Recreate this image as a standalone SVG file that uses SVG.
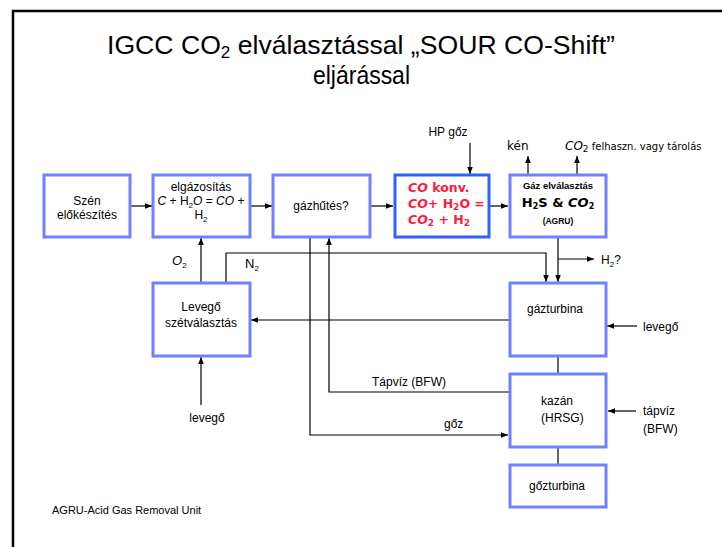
<svg xmlns="http://www.w3.org/2000/svg" width="722" height="547" viewBox="0 0 722 547">
<defs>
<style>
.t{font-family:"Liberation Sans",Arial,sans-serif;fill:#000}
.box{fill:#fff;stroke:#7080ff;stroke-width:3}
.boxr{fill:#fff;stroke:#3060ff;stroke-width:3}
.ln{fill:none;stroke:#000;stroke-width:1.2}
.red{font-family:"DejaVu Sans","Liberation Sans",sans-serif;font-weight:bold;fill:#ff1a40;font-size:12.5px}
.cs{font-family:"DejaVu Sans","Liberation Sans",sans-serif}
</style>
<marker id="a" viewBox="0 0 10 10" refX="10" refY="5" markerWidth="7" markerHeight="7" orient="auto" markerUnits="userSpaceOnUse">
<path d="M0,1 L10,5 L0,9 Z" fill="#000"/>
</marker>
</defs>
<rect x="0" y="0" width="722" height="547" fill="#fff"/>
<path d="M13,547 V11 H722" fill="none" stroke="#000" stroke-width="2.5"/>
<g id="title">
<text class="t" x="107" y="54" font-size="25" textLength="508" lengthAdjust="spacingAndGlyphs">IGCC CO<tspan font-size="16" dy="4">2</tspan><tspan dy="-4"> elválasztással „SOUR CO-Shift”</tspan></text>
<text class="t" x="313" y="84" font-size="25" textLength="97" lengthAdjust="spacingAndGlyphs">eljárással</text>
</g>
<g id="connectors">
<line class="ln" x1="130" y1="206" x2="152" y2="206" marker-end="url(#a)"/>
<line class="ln" x1="250" y1="206" x2="272" y2="206" marker-end="url(#a)"/>
<line class="ln" x1="371" y1="206" x2="393" y2="206" marker-end="url(#a)"/>
<line class="ln" x1="490" y1="206" x2="508" y2="206" marker-end="url(#a)"/>
<line class="ln" x1="470" y1="143" x2="470" y2="174" marker-end="url(#a)"/>
<line class="ln" x1="528" y1="174" x2="528" y2="156" marker-end="url(#a)"/>
<line class="ln" x1="577" y1="174" x2="577" y2="156" marker-end="url(#a)"/>
<line class="ln" x1="558" y1="237" x2="558" y2="282" marker-end="url(#a)"/>
<line class="ln" x1="558" y1="259" x2="594" y2="259" marker-end="url(#a)"/>
<polyline class="ln" points="226,283 226,253 546,253 546,282" marker-end="url(#a)"/>
<line class="ln" x1="201" y1="283" x2="201" y2="238" marker-end="url(#a)"/>
<line class="ln" x1="509" y1="320" x2="251" y2="320" marker-end="url(#a)"/>
<line class="ln" x1="201" y1="405" x2="201" y2="357" marker-end="url(#a)"/>
<line class="ln" x1="637" y1="326" x2="607" y2="326" marker-end="url(#a)"/>
<line class="ln" x1="558" y1="356" x2="558" y2="374"/>
<line class="ln" x1="558" y1="447" x2="558" y2="465"/>
<polyline class="ln" points="509,392 329,392 329,238" marker-end="url(#a)"/>
<polyline class="ln" points="310,237 310,435 508,435" marker-end="url(#a)"/>
<line class="ln" x1="636" y1="411" x2="608" y2="411" marker-end="url(#a)"/>
</g>
<g id="szen">
<rect class="box" x="44" y="175" width="86" height="62"/>
<text class="t" font-size="12" text-anchor="middle" x="87" y="205">Szén</text>
<text class="t" font-size="12" text-anchor="middle" x="87" y="219">előkészítés</text>
</g>
<g id="elgazositas">
<rect class="box" x="153" y="175" width="97" height="62"/>
<text class="t" font-size="12" text-anchor="middle" x="201" y="191">elgázosítás</text>
<text class="t" font-size="12" text-anchor="middle" x="201" y="205"><tspan font-style="italic">C</tspan> + H<tspan font-size="8" dy="3">2</tspan><tspan dy="-3" font-style="italic">O</tspan> = <tspan font-style="italic">CO</tspan> +</text>
<text class="t" font-size="12" text-anchor="middle" x="201" y="219">H<tspan font-size="8" dy="3">2</tspan></text>
</g>
<g id="gazhutes">
<rect class="box" x="273" y="175" width="97" height="62"/>
<text class="t" font-size="12" text-anchor="middle" x="321" y="210">gázhűtés?</text>
</g>
<g id="cokonv">
<rect class="boxr" x="395" y="175" width="94" height="62"/>
<text class="red" x="408" y="192"><tspan font-style="italic">CO</tspan> konv.</text>
<text class="red" x="408" y="208"><tspan font-style="italic">CO</tspan>+ H<tspan font-size="9" dy="2">2</tspan><tspan dy="-2">O =</tspan></text>
<text class="red" x="408" y="224"><tspan font-style="italic">CO</tspan><tspan font-size="9" dy="2">2</tspan><tspan dy="-2"> + H</tspan><tspan font-size="9" dy="2">2</tspan></text>
</g>
<g id="gazelvalasztas">
<rect class="box" x="510" y="175" width="96" height="62"/>
<text class="t" font-size="9.5" font-weight="bold" text-anchor="middle" x="558" y="189">Gáz elválasztás</text>
<text class="cs" font-size="13" font-weight="bold" text-anchor="middle" x="558" y="207">H<tspan font-size="8" dy="2">2</tspan><tspan dy="-2">S &amp; </tspan><tspan font-style="italic">CO</tspan><tspan font-size="8" dy="2">2</tspan></text>
<text class="t" font-size="8.5" font-weight="bold" text-anchor="middle" x="558" y="224">(AGRU)</text>
</g>
<g id="levego-szet">
<rect class="box" x="153" y="283" width="97" height="73"/>
<text class="t" font-size="12" text-anchor="middle" x="201" y="311">Levegő</text>
<text class="t" font-size="12" text-anchor="middle" x="201" y="327">szétválasztás</text>
</g>
<g id="gazturbina">
<rect class="box" x="510" y="283" width="96" height="73"/>
<text class="t" font-size="12" text-anchor="middle" x="555" y="313">gázturbina</text>
</g>
<g id="kazan">
<rect class="box" x="510" y="374" width="96" height="73"/>
<text class="t" font-size="12" x="541" y="405">kazán</text>
<text class="t" font-size="12" x="541" y="422">(HRSG)</text>
</g>
<g id="gozturbina">
<rect class="box" x="510" y="465" width="96" height="42"/>
<text class="t" font-size="12" text-anchor="middle" x="557" y="490">gőzturbina</text>
</g>
<g id="labels">
<text class="t" font-size="12" text-anchor="middle" x="448" y="136">HP gőz</text>
<text class="cs" font-size="12" x="507" y="150">kén</text>
<text class="cs" font-size="12" x="565" y="150"><tspan font-style="italic">CO</tspan><tspan font-size="9" dy="2">2</tspan><tspan dy="-2" font-size="10"> felhaszn. vagy tárolás</tspan></text>
<text class="t" font-size="12" x="601" y="264">H<tspan font-size="8" dy="3">2</tspan><tspan dy="-3">?</tspan></text>
<text class="t" font-size="13" x="172" y="265"><tspan font-style="italic">O</tspan><tspan font-size="8" dy="3">2</tspan></text>
<text class="t" font-size="13" x="245" y="268">N<tspan font-size="8" dy="3">2</tspan></text>
<text class="t" font-size="12" text-anchor="middle" x="207" y="422">levegő</text>
<text class="t" font-size="12" x="643" y="331">levegő</text>
<text class="t" font-size="12" x="372" y="386">Tápvíz (BFW)</text>
<text class="t" font-size="12" x="444" y="428">gőz</text>
<text class="t" font-size="12" x="643" y="415">tápvíz</text>
<text class="t" font-size="12" x="643" y="433">(BFW)</text>
<text class="t" font-size="11" x="52" y="514">AGRU-Acid Gas Removal Unit</text>
</g>
</svg>
